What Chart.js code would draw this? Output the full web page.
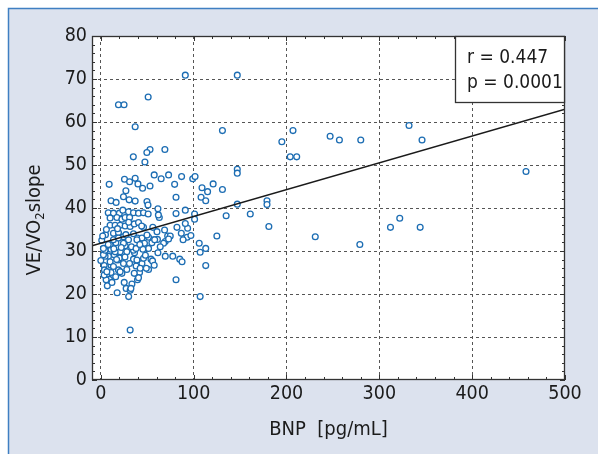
<!DOCTYPE html>
<html>
<head>
<meta charset="utf-8">
<script src="https://cdn.jsdelivr.net/npm/chart.js@4"></script>
<style>
	html, body { margin: 0; padding: 0; background: #fff; }
	#wrap { width: 598px; height: 454px; }
</style>
</head>
<body>
<div id="wrap"><canvas id="myChart" width="598" height="454"></canvas></div>
<script>
// значения с картинки
const bnp = [19,25,51,91,147,37,131,207,195,247,257,280,204,211,332,346,458,322,312,344,279,231,69,53,49.6,35,47.5,121,109,115,131,108,113,147,147,147,179,179,135,161,181,125,106,113,107,113,107,81,9,25.5,31,37,40,45,57.5,65,73,87,99,101.5,79.5,81,53,27,11,16.5,24.4,30.5,37,49.7,50.8,61.5,63,81,91,101,101,8,13.6,20,23.7,29.8,35.2,40.6,46,51,10,17.3,22.7,26.2,31,62,10,15.4,20.8,26.2,31.6,36,40.6,46,60.5,68.7,82,93.5,91,86.7,13.6,19,24.4,35.2,39.5,51.4,56.8,69.4,72,93,97,88.6,67.6,29.8,44.3,49.7,55,61,16.2,26.2,10.8,20.8,47,51.4,45.3,36.3,54,55.7,61.5,69.4,77.5,85,87.5,57.5,51.4,49,44.3,46,38,41.7,35.2,30.9,28,22.7,19,11,18.4,14.4,8.2,11,4.6,3.6,3.9,6.5,9.3,25.2,27.3,31.6,33.5,39.5,40.6,30,17.6,31.6,7,5.7,3.6,32.4,2.8,4.6,10,13.6,19,24.4,15.4,20,28,35.2,10,13.6,24.4,6.5,20.8,42.4,38.9,2.8,38.9,74.8,73,58,1,5,0,2,6,8,14,17,22,27,33,38,42,48,26,16,12,36,44,56,64,30,18];
const veSlope = [64,64,65.8,70.9,70.9,58.9,58,58,55.4,56.7,55.8,55.8,51.9,51.9,59.2,55.8,48.5,37.6,35.5,35.5,31.5,33.3,53.6,53.6,52.9,51.9,50.7,45.6,44.7,43.8,44.3,42.5,41.7,49,48.1,40.9,41.7,40.8,38.2,38.6,35.7,33.5,31.8,30.6,29.7,26.6,19.4,23.3,45.5,46.7,46.1,46.9,45.6,44.6,47.7,46.8,47.7,47.3,46.8,47.3,45.5,42.5,45.1,44,41.7,41.3,42.6,41.9,41.6,41.5,40.7,39.8,37.8,38.7,39.5,38.6,37.4,38.9,38.8,38.8,39.5,39.1,38.9,38.8,38.9,38.6,37.7,37.8,37.4,37.8,37.8,38.4,36,36,36,35.8,35.7,36.3,36.6,35.5,34.5,34.9,35.5,35.3,36.4,34.1,34.1,34.3,33.3,34,33,33.2,32.6,32.2,33.5,33.2,33.6,32.6,31.8,32.6,33,33.7,31.9,32.7,31.9,31.2,30.4,29.8,31.8,30.6,30.4,29.6,28.1,27.7,29.6,28.8,28.8,28.1,27.5,26.7,25.7,26,27.1,28.3,26.5,25,28.1,27.1,25.7,24.8,25.6,25,27.9,29.1,28.8,26.7,28.8,26.6,25.6,24,23.4,22.7,21.3,20.9,22.3,23.3,23.8,19.4,20.3,11.6,21.9,23.3,24.4,21.3,29.1,30.2,31.4,32.6,33,31.8,29.8,28.4,29.8,30.2,27.5,26.4,27.1,25.2,25.2,26,27.9,30.6,32.6,33.5,32.8,32.6,32.5,33.8,27.8,33.5,35,31.5,30.5,28,30.8,33.8,31,30.6,31.5,29,28.6,24,22.7,24.8,35.8,35.5,31,36.7,35.2];

// линия регрессии
const intercept = 31.8;
const slope = 0.0624;
const statLines = ["r = 0.447", "p = 0.0001"];

const xMin = -9.5, xMax = 500;
const yMin = 0, yMax = 80;
const xTicks = [0, 100, 200, 300, 400, 500];
const yTicks = [0, 10, 20, 30, 40, 50, 60, 70, 80];

const FONT = "'Liberation Sans Narrow', 'DejaVu Sans Condensed', sans-serif";
const TEXT = "#1b1b1b";
const POINT = "#1c6db3";

// фон, рамка, засечки внутрь, подписи осей, окно со статистикой
const decor = {
	id: "decor",
	beforeDraw(chart) {
		const { ctx, chartArea: a } = chart;
		ctx.save();
		ctx.fillStyle = "#fff";
		ctx.fillRect(0, 0, chart.width, chart.height);
		ctx.fillStyle = "#dce2ee";
		ctx.fillRect(8, 8, chart.width - 8, chart.height - 8);
		ctx.strokeStyle = "#3f7fc2";
		ctx.lineWidth = 1.5;
		ctx.beginPath();
		ctx.moveTo(8.5, chart.height);
		ctx.lineTo(8.5, 8.5);
		ctx.lineTo(chart.width, 8.5);
		ctx.stroke();
		ctx.fillStyle = "#fff";
		ctx.fillRect(a.left, a.top, a.right - a.left, a.bottom - a.top);
		ctx.restore();
	},
	afterDraw(chart) {
		const { ctx, chartArea: a, scales } = chart;
		const xs = scales.x, ys = scales.y;
		ctx.save();
		ctx.strokeStyle = "#333";
		ctx.lineWidth = 1;
		ctx.beginPath();
		for (let v = 0; v <= xMax; v += 20) {
			const px = Math.round(xs.getPixelForValue(v)) + 0.5;
			const len = v % 100 === 0 ? 5 : 3;
			ctx.moveTo(px, a.bottom); ctx.lineTo(px, a.bottom - len);
			ctx.moveTo(px, a.top); ctx.lineTo(px, a.top + len);
		}
		for (let v = yMin; v <= yMax; v += 2) {
			const py = Math.round(ys.getPixelForValue(v)) + 0.5;
			const len = v % 10 === 0 ? 5 : 3;
			ctx.moveTo(a.left, py); ctx.lineTo(a.left + len, py);
			ctx.moveTo(a.right, py); ctx.lineTo(a.right - len, py);
		}
		ctx.stroke();
		ctx.lineWidth = 1.3;
		ctx.strokeRect(a.left + 0.5, a.top + 0.5, a.right - a.left - 1, a.bottom - a.top - 1);

		// окно r / p
		const bx = 455, by = a.top, bw = a.right - 455, bh = 67;
		ctx.fillStyle = "#fff";
		ctx.fillRect(bx, by, bw, bh);
		ctx.strokeRect(bx + 0.5, by + 0.5, bw - 1, bh - 1);
		ctx.fillStyle = TEXT;
		ctx.font = "19px " + FONT;
		ctx.textBaseline = "alphabetic";
		ctx.textAlign = "left";
		ctx.fillText(statLines[0], bx + 12, by + 27);
		ctx.fillText(statLines[1], bx + 12, by + 52);

		// подпись оси X
		ctx.textAlign = "center";
		ctx.font = "20px " + FONT;
		ctx.fillText("BNP  [pg/mL]", (a.left + a.right) / 2, 435);

		// подпись оси Y с индексом
		ctx.translate(40, 220);
		ctx.rotate(-Math.PI / 2);
		const p1 = "VE/VO", p3 = "slope";
		ctx.font = "20px " + FONT;
		const w1 = ctx.measureText(p1).width;
		const w3 = ctx.measureText(p3).width;
		ctx.font = "13px " + FONT;
		const w2 = ctx.measureText("2").width;
		let x = -(w1 + w2 + w3) / 2;
		ctx.textAlign = "left";
		ctx.font = "20px " + FONT;
		ctx.fillText(p1, x, 0);
		x += w1;
		ctx.font = "13px " + FONT;
		ctx.fillText("2", x, 4);
		x += w2;
		ctx.font = "20px " + FONT;
		ctx.fillText(p3, x, 0);
		ctx.restore();
	},
};

const ctx = document.getElementById("myChart");
const points = bnp.map((v, i) => ({ x: v, y: veSlope[i] }));

const config = {
	type: "scatter",
	data: {
		datasets: [
			{
				type: "line",
				data: [
					{ x: xMin, y: intercept + slope * xMin },
					{ x: xMax, y: intercept + slope * xMax },
				],
				borderColor: "#1a1a1a",
				borderWidth: 1.5,
				pointRadius: 0,
				fill: false,
				order: 0,
			},
			{
				data: points,
				pointRadius: 2.9,
				borderWidth: 1.3,
				borderColor: POINT,
				backgroundColor: "#fff",
				order: 1,
			},
		],
	},
	options: {
		responsive: false,
		animation: false,
		events: [],
		layout: { padding: { left: 0, top: 36, right: 33, bottom: 0 } },
		plugins: { legend: { display: false }, tooltip: { enabled: false } },
		scales: {
			x: {
				type: "linear",
				min: xMin,
				max: xMax,
				afterBuildTicks: (s) => { s.ticks = xTicks.map((v) => ({ value: v })); },
				afterFit: (s) => { s.height = 74; },
				grid: {
					drawTicks: false,
					color: (c) => (c.tick && c.tick.value === xMax ? "transparent" : "#555"),
					lineWidth: 1,
				},
				border: { display: false, dash: [3, 3] },
				ticks: { color: TEXT, font: { family: FONT, size: 19.5 }, padding: 2, maxRotation: 0 },
			},
			y: {
				type: "linear",
				min: yMin,
				max: yMax,
				afterBuildTicks: (s) => { s.ticks = yTicks.map((v) => ({ value: v })); },
				afterFit: (s) => { s.width = 92; },
				grid: {
					drawTicks: false,
					color: (c) => (c.tick && (c.tick.value === yMin || c.tick.value === yMax) ? "transparent" : "#555"),
					lineWidth: 1,
				},
				border: { display: false, dash: [3, 3] },
				ticks: { color: TEXT, font: { family: FONT, size: 19.5 }, padding: 5 },
			},
		},
	},
	plugins: [decor],
};

const chart = new Chart(ctx, config);
</script>
</body>
</html>
